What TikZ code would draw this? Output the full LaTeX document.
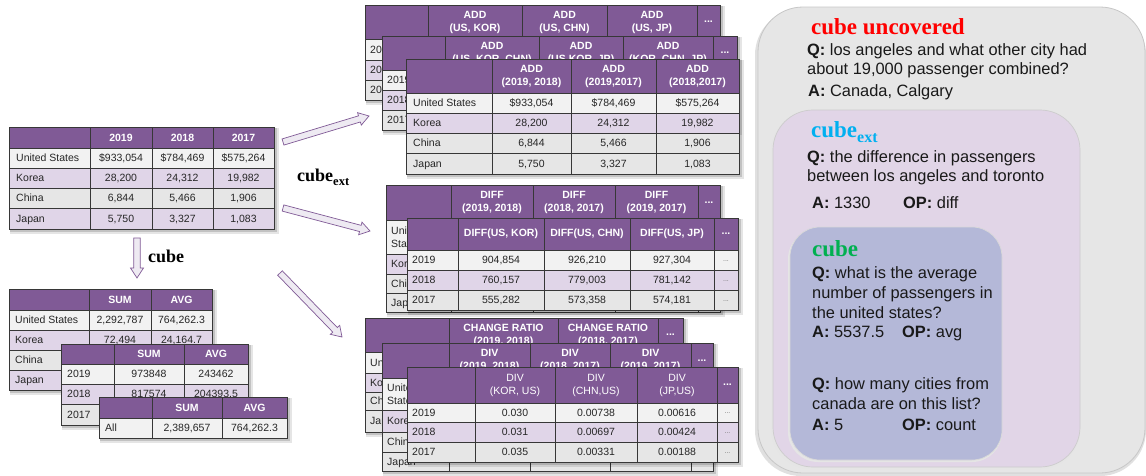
\documentclass[tikz,border=0pt]{standalone}
\usepackage{fontspec}
\setmainfont{Liberation Sans}
\newfontfamily\serf{Liberation Serif}
\usetikzlibrary{calc}

\definecolor{hdr}{RGB}{128,90,150}
\definecolor{rowl}{RGB}{242,242,242}
\definecolor{rowp}{RGB}{224,213,232}
\definecolor{rowg}{RGB}{230,230,230}
\definecolor{gline}{RGB}{55,55,55}
\definecolor{boxg}{RGB}{230,230,230}
\definecolor{boxp}{RGB}{225,213,231}
\definecolor{boxb}{RGB}{180,184,216}
\definecolor{cred}{RGB}{255,0,0}
\definecolor{ccyan}{RGB}{0,176,240}
\definecolor{cgreen}{RGB}{0,176,80}
\definecolor{arrfill}{RGB}{238,234,242}

\newcount\cellno
\newcommand\tabf{\fontsize{10.5}{13}\selectfont}
\newcommand\hdrf{\fontsize{10.5}{13}\selectfont\bfseries}
\newcommand\qaf{\fontsize{16.4}{20}\selectfont}

\tikzset{
  autoname/.code={\global\advance\cellno by 1\relax\pgfkeysalso{name/.expanded=cell\the\cellno}},
  cell/.style={autoname, font=\tabf, inner sep=0pt, text height=7.6pt, text depth=0pt, text=black!85},
  lcell/.style={cell, anchor=west},
  lcelltwo/.style={autoname, font=\tabf, inner sep=0pt, align=left, anchor=west, text=black!85},
  hcell/.style={autoname, font=\hdrf, text=white, inner sep=0pt, align=center},
  hcellr/.style={hcell, font=\tabf},
  dcell/.style={autoname, font=\fontsize{7}{8}\selectfont, inner sep=0pt, text height=2pt, text depth=0pt, text=black!55},
  grid/.style={draw=gline, line width=0.8pt},
  qa/.style={autoname, anchor=base west, inner sep=0pt, font=\qaf, text=black!90},
  ttl/.style={autoname, anchor=base west, inner sep=0pt, font=\serf\bfseries\fontsize{23}{26}\selectfont},
  lbl/.style={autoname, anchor=base west, inner sep=0pt, font=\serf\bfseries\fontsize{18}{20}\selectfont},
  fatarrow/.style={draw=hdr, fill=arrfill, line width=0.7pt, line join=miter,
    to path={let \p1=(\tikztostart), \p2=(\tikztotarget),
      \n1={atan2(\y2-\y1,\x2-\x1)}, \n2={veclen(\x2-\x1,\y2-\y1)-10} in
      ($(\p1)+(\n1+90:3.2pt)$) -- ($(\p1)+(\n1+90:3.2pt)+(\n1:\n2)$) --
      ($(\p1)+(\n1+90:6.5pt)+(\n1:\n2)$) -- (\p2) --
      ($(\p1)+(\n1-90:6.5pt)+(\n1:\n2)$) -- ($(\p1)+(\n1-90:3.2pt)+(\n1:\n2)$) --
      ($(\p1)+(\n1-90:3.2pt)$) -- cycle}}
}

\newcommand\tbg[5]{%
  \fill[black,opacity=.10] (#1+1,#2+1) rectangle (#3+5,#4+5);
  \fill[black,opacity=.15] (#1+1,#2+1) rectangle (#3+3,#4+3);
  \fill[white] (#1,#2) rectangle (#3,#4);
  \fill[hdr] (#1,#2) rectangle (#3,#5);}
\newcommand\band[5]{\fill[#5] (#1,#2) rectangle (#3,#4);}
\newcommand\tgrid[6]{%
  \foreach \xx in {#5} {\draw[grid] (\xx,#2) -- (\xx,#4);}
  \foreach \yy in {#6} {\draw[grid] (#1,\yy) -- (#3,\yy);}
  \draw[grid, line width=1pt] (#1,#2) rectangle (#3,#4);}
\newcommand\hc[3]{\node[hcell] at (#1,#2) {#3};}
\newcommand\hcr[3]{\node[hcellr] at (#1,#2) {#3};}
\newcommand\cc[3]{\node[cell] at (#1,#2) {#3};}
\newcommand\lc[3]{\node[lcell] at (#1,#2) {#3};}
\newcommand\hd[2]{\node[hcell] at (#1,#2) {...};}
\newcommand\bd[2]{\node[dcell] at (#1,#2) {...};}

\begin{document}
\begin{tikzpicture}[x=1pt,y=-1pt]
\useasboundingbox (0,0) rectangle (1146,475);
\fill[white] (0,0) rectangle (1146,475);

% ---------------- right panel ----------------
\fill[black!12, rounded corners=46pt] (755,9) rectangle (1146,476);
\fill[boxg, draw=black!22, line width=0.8pt, rounded corners=45pt] (758,7) rectangle (1145,473);
\fill[black!10, rounded corners=40pt] (771,112) rectangle (1080,469);
\fill[boxp, draw=white!80!black, line width=0.7pt, rounded corners=40pt] (773,110) rectangle (1080,467);
\fill[black!10, rounded corners=30pt] (788,229) rectangle (1002,462);
\fill[boxb, draw=white!85!black, line width=0.7pt, rounded corners=30pt] (790,227) rectangle (1002,460);

\node[ttl, text=cred] (t1) at (811,34.5) {cube uncovered};
\node[qa] (q1a) at (807,55) {\textbf{Q:} los angeles and what other city had};
\node[qa] (q1b) at (807,74) {about 19,000 passenger combined?};
\node[qa] (a1) at (808,96.7) {\textbf{A:} Canada, Calgary};

\node[ttl, text=ccyan] (t2) at (811,137) {cube{\fontsize{16}{18}\selectfont\raisebox{-5pt}{ext}}};
\node[qa] (q2a) at (807,162.7) {\textbf{Q:} the difference in passengers};
\node[qa] (q2b) at (807,181.7) {between los angeles and toronto};
\node[qa] (a2) at (812,208.3) {\textbf{A:} 1330};
\node[qa] (op2) at (903,208.3) {\textbf{OP:} diff};

\node[ttl, text=cgreen] (t3) at (812,256.7) {cube};
\node[qa] (q3a) at (812,278.3) {\textbf{Q:} what is the average};
\node[qa] (q3b) at (812,298.3) {number of passengers in};
\node[qa] (q3c) at (812,318.3) {the united states?};
\node[qa] (a3) at (812,337.3) {\textbf{A:} 5537.5};
\node[qa] (op3) at (902,337.3) {\textbf{OP:} avg};
\node[qa] (q4a) at (812,389.3) {\textbf{Q:} how many cities from};
\node[qa] (q4b) at (812,409.3) {canada are on this list?};
\node[qa] (a4) at (812,430.7) {\textbf{A:} 5};
\node[qa] (op4) at (902,430.7) {\textbf{OP:} count};

% ---------------- main table ----------------
\tbg{9}{127}{274}{229}{148}
\band{9}{148}{274}{168}{rowl}
\band{9}{168}{274}{188}{rowp}
\band{9}{188}{274}{208}{rowg}
\band{9}{208}{274}{229}{rowp}
\tgrid{9}{127}{274}{229}{90,152,213}{148,168,188,208}
\hc{121}{137.5}{2019}\hc{182.5}{137.5}{2018}\hc{243.5}{137.5}{2017}
\lc{16}{158}{United States}\cc{121}{158}{\$933,054}\cc{182.5}{158}{\$784,469}\cc{243.5}{158}{\$575,264}
\lc{16}{178}{Korea}\cc{121}{178}{28,200}\cc{182.5}{178}{24,312}\cc{243.5}{178}{19,982}
\lc{16}{198}{China}\cc{121}{198}{6,844}\cc{182.5}{198}{5,466}\cc{243.5}{198}{1,906}
\lc{16}{218.5}{Japan}\cc{121}{218.5}{5,750}\cc{182.5}{218.5}{3,327}\cc{243.5}{218.5}{1,083}

% ---------------- bottom-left tables ----------------
\tbg{9}{289}{212}{390}{310}
\band{9}{310}{212}{330}{rowl}
\band{9}{330}{212}{350}{rowp}
\band{9}{350}{212}{370}{rowg}
\band{9}{370}{212}{390}{rowp}
\tgrid{9}{289}{212}{390}{89,151}{310,330,350,370}
\hc{120}{299.5}{SUM}\hc{181.5}{299.5}{AVG}
\lc{15}{320}{United States}\cc{120}{320}{2,292,787}\cc{181.5}{320}{764,262.3}
\lc{15}{340}{Korea}\cc{120}{340}{72,494}\cc{181.5}{340}{24,164.7}
\lc{15}{360}{China}\lc{15}{380}{Japan}

\tbg{61}{344}{248}{425}{364}
\band{61}{364}{248}{384}{rowl}
\band{61}{384}{248}{404}{rowp}
\band{61}{404}{248}{425}{rowg}
\tgrid{61}{344}{248}{425}{114,184}{364,384,404}
\hc{149}{354}{SUM}\hc{216}{354}{AVG}
\lc{67}{374}{2019}\cc{149}{374}{973848}\cc{216}{374}{243462}
\lc{67}{394}{2018}\cc{149}{394}{817574}\cc{216}{394}{204393.5}
\lc{67}{414.5}{2017}

\tbg{99}{397}{287}{438}{418}
\band{99}{418}{287}{438}{rowl}
\tgrid{99}{397}{287}{438}{152,222}{418}
\hc{187}{407.5}{SUM}\hc{254.5}{407.5}{AVG}
\lc{105}{428}{All}\cc{187}{428}{2,389,657}\cc{254.5}{428}{764,262.3}

% ---------------- top-right stack (ADD) ----------------
\tbg{365}{5}{720}{100}{39}
\band{365}{39}{720}{60}{rowl}
\band{365}{60}{720}{80}{rowp}
\band{365}{80}{720}{100}{rowg}
\tgrid{365}{5}{720}{100}{428,522,607,697}{39,60,80}
\hc{475}{22}{ADD\\(US, KOR)}\hc{564.5}{22}{ADD\\(US, CHN)}\hc{652}{22}{ADD\\(US, JP)}\hd{708.5}{22}
\lc{370}{49.5}{2019}\lc{370}{70}{2018}\lc{370}{90}{2017}

\tbg{382}{36}{737}{130}{70}
\band{382}{70}{737}{90}{rowl}
\band{382}{90}{737}{110}{rowp}
\band{382}{110}{737}{130}{rowg}
\tgrid{382}{36}{737}{130}{445,539,623,713}{70,90,110}
\hc{492}{53}{ADD\\(US, KOR, CHN)}\hc{581}{53}{ADD\\(US,KOR, JP)}\hc{668}{53}{ADD\\(KOR, CHN, JP)}\hd{725}{53}
\lc{387}{80}{2019}\lc{387}{100}{2018}\lc{387}{120}{2017}

\tbg{406}{59}{739}{174}{93}
\band{406}{93}{739}{113}{rowl}
\band{406}{113}{739}{133}{rowp}
\band{406}{133}{739}{153}{rowg}
\band{406}{153}{739}{174}{rowg}
\tgrid{406}{59}{739}{174}{492,571,656}{93,113,133,153}
\hc{531.5}{76}{ADD\\(2019, 2018)}\hc{613.5}{76}{ADD\\(2019,2017)}\hc{697.5}{76}{ADD\\(2018,2017)}
\lc{413}{103}{United States}\cc{531.5}{103}{\$933,054}\cc{613.5}{103}{\$784,469}\cc{697.5}{103}{\$575,264}
\lc{413}{123}{Korea}\cc{531.5}{123}{28,200}\cc{613.5}{123}{24,312}\cc{697.5}{123}{19,982}
\lc{413}{143}{China}\cc{531.5}{143}{6,844}\cc{613.5}{143}{5,466}\cc{697.5}{143}{1,906}
\lc{413}{163.5}{Japan}\cc{531.5}{163.5}{5,750}\cc{613.5}{163.5}{3,327}\cc{697.5}{163.5}{1,083}

% ---------------- middle-right stack (DIFF) ----------------
\tbg{386}{185}{720}{312}{220}
\band{386}{220}{720}{254}{rowl}
\band{386}{254}{720}{274}{rowp}
\band{386}{274}{720}{293}{rowg}
\band{386}{293}{720}{312}{rowg}
\tgrid{386}{185}{720}{312}{451,533,615,698}{220,254,274,293}
\hc{492}{202.5}{DIFF\\(2019, 2018)}\hc{574}{202.5}{DIFF\\(2018, 2017)}\hc{656.5}{202.5}{DIFF\\(2019, 2017)}\hd{709}{202.5}
\node[lcelltwo] at (391,237) {United\\States};
\lc{391}{264}{Korea}\lc{391}{283.5}{China}\lc{391}{302.5}{Japan}

\tbg{407}{218}{738}{310}{250}
\band{407}{250}{738}{270}{rowl}
\band{407}{270}{738}{290}{rowp}
\band{407}{290}{738}{310}{rowg}
\tgrid{407}{218}{738}{310}{458,544,630,714}{250,270,290}
\hc{501}{234}{DIFF(US, KOR)}\hc{587}{234}{DIFF(US, CHN)}\hc{672}{234}{DIFF(US, JP)}\hd{726}{234}
\lc{412}{260}{2019}\cc{501}{260}{904,854}\cc{587}{260}{926,210}\cc{672}{260}{927,304}\bd{726}{260}
\lc{412}{280}{2018}\cc{501}{280}{760,157}\cc{587}{280}{779,003}\cc{672}{280}{781,142}\bd{726}{280}
\lc{412}{300}{2017}\cc{501}{300}{555,282}\cc{587}{300}{573,358}\cc{672}{300}{574,181}\bd{726}{300}

% ---------------- bottom-right stack (DIV) ----------------
\tbg{365}{318}{683}{432}{352}
\band{365}{352}{683}{373}{rowl}
\band{365}{373}{683}{392}{rowp}
\band{365}{392}{683}{410}{rowg}
\band{365}{410}{683}{432}{rowg}
\tgrid{365}{318}{683}{432}{449,558,658}{352,373,392,410}
\hc{503.5}{335}{CHANGE RATIO\\(2019, 2018)}\hc{608}{335}{CHANGE RATIO\\(2018, 2017)}\hd{670.5}{335}
\lc{370}{362.5}{United States}\lc{370}{382.5}{Korea}\lc{370}{401}{China}\lc{370}{421}{Japan}

\tbg{382}{343}{713}{471}{378}
\band{382}{378}{713}{410}{rowl}
\band{382}{410}{713}{432}{rowp}
\band{382}{432}{713}{452}{rowg}
\band{382}{452}{713}{471}{rowg}
\tgrid{382}{343}{713}{471}{449,530,610,691}{378,410,432,452}
\hc{489.5}{360.5}{DIV\\(2019, 2018)}\hc{570}{360.5}{DIV\\(2018, 2017)}\hc{650.5}{360.5}{DIV\\(2019, 2017)}\hd{702}{360.5}
\node[lcelltwo] at (387,394) {United\\States};
\lc{387}{421}{Korea}\lc{387}{442}{China}\lc{387}{461.5}{Japan}

\tbg{407}{367}{738}{462}{403}
\band{407}{403}{738}{422}{rowl}
\band{407}{422}{738}{442}{rowp}
\band{407}{442}{738}{462}{rowg}
\tgrid{407}{367}{738}{462}{475,555,637,717}{403,422,442}
\hcr{515}{385}{DIV\\(KOR, US)}\hcr{596}{385}{DIV\\(CHN,US)}\hcr{677}{385}{DIV\\(JP,US)}\hd{727.5}{385}
\lc{412}{412.5}{2019}\cc{515}{412.5}{0.030}\cc{596}{412.5}{0.00738}\cc{677}{412.5}{0.00616}\bd{727.5}{412.5}
\lc{412}{432}{2018}\cc{515}{432}{0.031}\cc{596}{432}{0.00697}\cc{677}{432}{0.00424}\bd{727.5}{432}
\lc{412}{452}{2017}\cc{515}{452}{0.035}\cc{596}{452}{0.00331}\cc{677}{452}{0.00188}\bd{727.5}{452}

% ---------------- arrows and labels ----------------
\coordinate (a0s) at (137,238); \coordinate (a0e) at (137,278);
\coordinate (a1s) at (283,142); \coordinate (a1e) at (369,116);
\coordinate (a2s) at (283,208); \coordinate (a2e) at (370,231);
\coordinate (a3s) at (280,273); \coordinate (a3e) at (342,337);
\draw[fatarrow] (a0s) to (a0e);
\draw[fatarrow] (a1s) to (a1e);
\draw[fatarrow] (a2s) to (a2e);
\draw[fatarrow] (a3s) to (a3e);

\node[lbl] (lcube) at (148,262) {cube};
\node[lbl] (lcubeext) at (297,181) {cube{\fontsize{12.5}{14}\selectfont\raisebox{-4pt}{ext}}};
\end{tikzpicture}
\end{document}
